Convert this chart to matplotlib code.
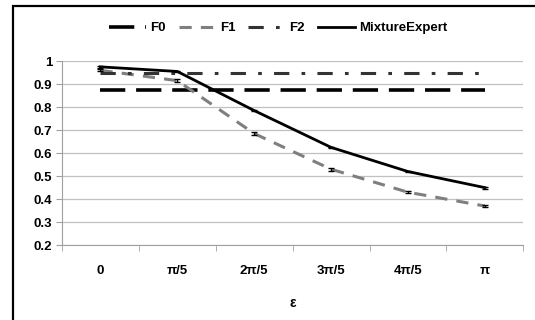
import numpy as np
import matplotlib
matplotlib.use('Agg')
import matplotlib.pyplot as plt
from matplotlib.patches import Rectangle

categories = ['0', 'π/5', '2π/5', '3π/5', '4π/5', 'π']
f0 = [0.875, 0.875, 0.875, 0.875, 0.875, 0.875]
f1 = [0.960, 0.915, 0.685, 0.530, 0.430, 0.370]
f1_err = [0.004, 0.006, 0.006, 0.006, 0.004, 0.005]
f2 = [0.950, 0.950, 0.950, 0.950, 0.950, 0.950]
mixture = [0.975, 0.955, 0.785, 0.625, 0.520, 0.450]
mixture_err = [0.003, 0.003, 0.004, 0.003, 0.003, 0.004]

plt.rcParams['font.family'] = ['Liberation Sans', 'DejaVu Sans']

fig = plt.figure(figsize=(5.35, 3.2), dpi=100)
ax = fig.add_axes([0.116, 0.234, 0.862, 0.575])

x = np.arange(len(categories))
ax.plot(x, f0, color='black', linewidth=2.6, dashes=(7, 3), label='F0')
ax.plot(x, f1, color='#7f7f7f', linewidth=2.2, dashes=(4, 3), label='F1')
ax.plot(x, f2, color='#333333', linewidth=2.2, dashes=(5, 4, 1.2, 4), label='F2')
ax.plot(x, mixture, color='black', linewidth=2.0, label='MixtureExpert')
ax.errorbar(x, f1, yerr=f1_err, fmt='none', ecolor='black',
            capsize=2.5, elinewidth=1)
ax.errorbar(x, mixture, yerr=mixture_err, fmt='none', ecolor='black',
            capsize=2.5, elinewidth=1)

ax.set_xlim(-0.5, len(categories) - 0.5)
ax.set_ylim(0.2, 1.0)
ax.set_yticks(np.arange(0.2, 1.01, 0.1))
ax.set_yticklabels(['0.2', '0.3', '0.4', '0.5', '0.6', '0.7', '0.8', '0.9', '1'])
ax.set_xticks(x)
ax.set_xticklabels(categories)
ax.set_xticks(np.arange(-0.5, len(categories), 1.0), minor=True)
ax.tick_params(axis='x', which='major', length=0, pad=14)
ax.tick_params(axis='x', which='minor', length=4, color='#a0a0a0')
ax.tick_params(axis='y', length=4, color='#a0a0a0', pad=3)
for lbl in ax.get_xticklabels() + ax.get_yticklabels():
    lbl.set_fontweight('bold')
    lbl.set_fontsize(9.5)
ax.grid(axis='y', color='#c0c0c0', linewidth=0.9)
ax.set_axisbelow(True)
for side in ['top', 'right']:
    ax.spines[side].set_visible(False)
ax.spines['left'].set_color('#a0a0a0')
ax.spines['bottom'].set_color('#a0a0a0')

ax.set_xlabel('ε', fontsize=10, fontweight='bold', labelpad=14)

handles, labels = ax.get_legend_handles_labels()
fig.legend(handles, labels, loc='center', bbox_to_anchor=(0.52, 0.912),
           ncol=4, frameon=False, prop={'size': 9.5, 'weight': 'bold'},
           handlelength=2.8, columnspacing=1.0, handletextpad=0.3)

fig.patches.append(Rectangle((13 / 535, -0.05), 1.2, 1.0 - 6 / 320 + 0.05,
                             transform=fig.transFigure, fill=False,
                             edgecolor='black', linewidth=1.6))

fig.savefig('out.png', dpi=100)
